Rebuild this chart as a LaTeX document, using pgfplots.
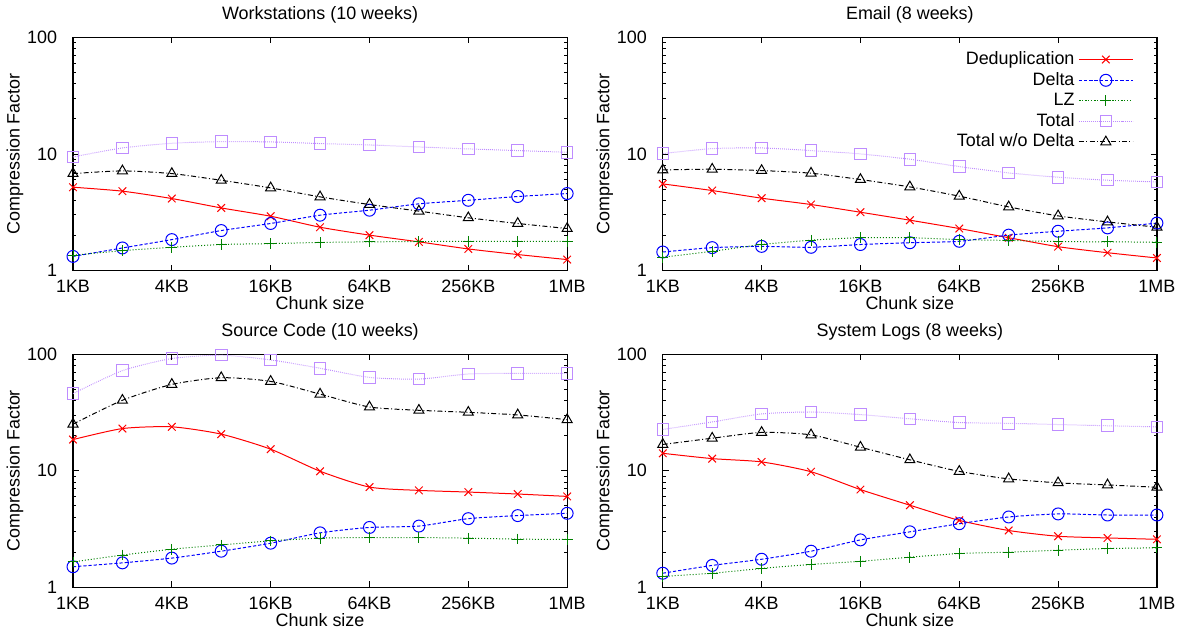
\documentclass[border=0pt]{standalone}
\usepackage{fontspec}
\setmainfont{Liberation Sans}
\usepackage{pgfplots}
\usepackage{pgfplotstable}
\pgfplotsset{compat=1.18}
\usepgfplotslibrary{groupplots}

\definecolor{lzgreen}{RGB}{0,128,0}
\definecolor{totpurple}{RGB}{190,140,255}

% columns: x = log2(chunk size / 1KB)
\pgfplotstableread{
x ded del lz tot twd
0 5.18 1.32 1.35 9.42 6.78
1 4.79 1.56 1.48 11.25 7.15
2 4.14 1.84 1.58 12.34 6.78
3 3.44 2.20 1.67 12.75 5.94
4 2.92 2.53 1.70 12.67 5.11
5 2.35 2.98 1.74 12.27 4.28
6 2.01 3.29 1.76 11.94 3.68
7 1.76 3.73 1.77 11.48 3.23
8 1.53 4.00 1.78 11.04 2.83
9 1.37 4.31 1.78 10.68 2.53
10 1.24 4.57 1.78 10.33 2.29
}\work
\pgfplotstableread{
x ded del lz tot twd
0 5.53 1.44 1.30 10.07 7.29
1 4.85 1.57 1.46 11.10 7.39
2 4.17 1.61 1.67 11.25 7.20
3 3.68 1.58 1.82 10.68 6.83
4 3.16 1.67 1.91 10.00 6.03
5 2.70 1.73 1.91 9.00 5.21
6 2.29 1.78 1.84 7.79 4.34
7 1.91 2.01 1.81 6.87 3.51
8 1.60 2.17 1.77 6.31 2.94
9 1.42 2.32 1.76 5.95 2.61
10 1.28 2.55 1.75 5.75 2.35
}\email
\pgfplotstableread{
x ded del lz tot twd
0 18.5 1.50 1.65 45.9 25.1
1 23.0 1.62 1.89 72.2 40.2
2 23.8 1.78 2.12 91.7 55.0
3 20.6 2.04 2.31 98.0 62.8
4 15.3 2.39 2.50 89.3 58.4
5 9.9 2.93 2.64 75.7 45.4
6 7.24 3.26 2.67 63.2 35.2
7 6.78 3.35 2.67 61.1 33.0
8 6.56 3.88 2.64 67.6 31.7
9 6.31 4.12 2.59 68.4 30.1
10 6.02 4.31 2.57 68.4 27.4
}\source
\pgfplotstableread{
x ded del lz tot twd
0 14.1 1.32 1.24 22.6 16.8
1 12.7 1.54 1.32 26.2 19.0
2 11.9 1.74 1.45 30.7 21.3
3 9.8 2.04 1.57 31.9 20.3
4 6.89 2.55 1.67 30.3 15.9
5 5.06 2.99 1.81 27.9 12.4
6 3.75 3.51 1.95 25.9 9.87
7 3.07 4.01 2.00 25.5 8.51
8 2.74 4.26 2.08 24.9 7.87
9 2.65 4.17 2.15 24.3 7.55
10 2.58 4.17 2.18 23.8 7.21
}\logs

\pgfplotsset{
  longlegend/.style={legend image code/.code={%
    \draw[mark repeat=2,mark phase=2,##1] plot coordinates {(0pt,0pt) (13.5pt,0pt) (27pt,0pt)};}},
  dedup/.style={red, line width=0.5pt, mark=x, mark size=2.7pt, smooth, tension=0.4, longlegend},
  delta/.style={blue, line width=0.5pt, dash pattern=on 1.6pt off 1pt, mark=o, mark size=3pt, mark options={solid}, smooth, tension=0.4, longlegend},
  lzs/.style={lzgreen, line width=0.5pt, dash pattern=on 0.5pt off 1pt, mark=+, mark size=2.7pt, mark options={solid}, smooth, tension=0.4, longlegend},
  total/.style={totpurple, line width=0.5pt, dash pattern=on 0.4pt off 0.6pt, mark=square, mark size=2.9pt, mark options={solid}, smooth, tension=0.4, longlegend},
  twd/.style={black, line width=0.5pt, dash pattern=on 2.5pt off 1.2pt on 0.5pt off 1.2pt, mark=triangle, mark size=2.9pt, mark options={solid}, smooth, tension=0.4, longlegend},
}

\begin{document}
\begin{tikzpicture}[font=\fontsize{9}{10.8}\selectfont]
\begin{groupplot}[
  group style={group size=2 by 2, horizontal sep=48pt, vertical sep=42pt},
  width=248pt, height=117pt, scale only axis,
  ymode=log, ymin=1, ymax=100,
  ytick={1,10,100}, yticklabels={1,10,100},
  xmin=0, xmax=10, xtick={0,2,4,6,8,10},
  xticklabels={1KB,4KB,16KB,64KB,256KB,1MB},
  major tick length=3pt, minor tick length=1.5pt,
  tick style={black, line width=0.4pt},
  axis line style={line width=0.6pt},
  xlabel={Chunk size}, ylabel={Compression Factor},
  xlabel style={yshift=5pt},
  ylabel style={yshift=-5pt},
  xticklabel style={yshift=-1.2pt},
  yticklabel style={xshift=-4.5pt},
  title style={yshift=-2.5pt},
  clip mode=individual,
  /pgf/number format/assume math mode=true,
  every axis plot/.append style={mark options={line width=0.5pt}},
]
\nextgroupplot[title={Workstations (10 weeks)}]
\addplot[dedup] table[x=x,y=ded]{\work};
\addplot[delta] table[x=x,y=del]{\work};
\addplot[lzs] table[x=x,y=lz]{\work};
\addplot[total] table[x=x,y=tot]{\work};
\addplot[twd] table[x=x,y=twd]{\work};

\nextgroupplot[title={Email (8 weeks)},
  legend style={draw=none, fill=none, at={(rel axis cs:0.965,0.975)}, anchor=north east,
    row sep=-1.6pt, font=\fontsize{9}{10.8}\selectfont},
  legend plot pos=right, legend cell align=right,
]
\addplot[dedup] table[x=x,y=ded]{\email};
\addlegendentry{Deduplication}
\addplot[delta] table[x=x,y=del]{\email};
\addlegendentry{Delta}
\addplot[lzs] table[x=x,y=lz]{\email};
\addlegendentry{LZ}
\addplot[total] table[x=x,y=tot]{\email};
\addlegendentry{Total}
\addplot[twd] table[x=x,y=twd]{\email};
\addlegendentry{Total w/o Delta}

\nextgroupplot[title={Source Code (10 weeks)}]
\addplot[dedup] table[x=x,y=ded]{\source};
\addplot[delta] table[x=x,y=del]{\source};
\addplot[lzs] table[x=x,y=lz]{\source};
\addplot[total] table[x=x,y=tot]{\source};
\addplot[twd] table[x=x,y=twd]{\source};

\nextgroupplot[title={System Logs (8 weeks)}]
\addplot[dedup] table[x=x,y=ded]{\logs};
\addplot[delta] table[x=x,y=del]{\logs};
\addplot[lzs] table[x=x,y=lz]{\logs};
\addplot[total] table[x=x,y=tot]{\logs};
\addplot[twd] table[x=x,y=twd]{\logs};
\end{groupplot}
\end{tikzpicture}
\end{document}
